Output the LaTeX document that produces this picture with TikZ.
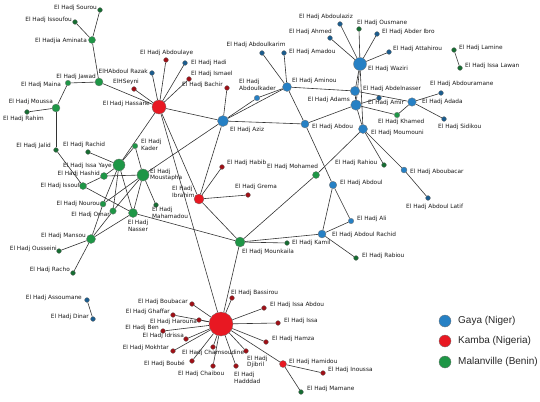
\documentclass[tikz,border=0pt]{standalone}
\usepackage{fontspec}
\newfontfamily\dejavu{DejaVu Sans}
\newfontfamily\libsans{Liberation Sans}
\usetikzlibrary{backgrounds}
\definecolor{cgaya}{RGB}{38,128,196}
\definecolor{ckamba}{RGB}{232,24,34}
\definecolor{cmal}{RGB}{30,150,70}
\begin{document}
\begin{tikzpicture}[x=1pt,y=-1pt,
  nd/.style={circle,inner sep=0pt,draw=black!55,line width=0.3pt},
  ga/.style={nd,fill=cgaya,minimum size=#1pt}, ga/.default=5,
  ka/.style={nd,fill=ckamba,minimum size=#1pt}, ka/.default=5,
  ma/.style={nd,fill=cmal,minimum size=#1pt}, ma/.default=5,
  gas/.style={nd,fill=cgaya!72!black,minimum size=4.8pt},
  kas/.style={nd,fill=ckamba!68!black,minimum size=4.8pt},
  mas/.style={nd,fill=cmal!72!black,minimum size=4.8pt},
  ed/.style={draw=black!80,line width=0.6pt},
  lbl/.style={font=\fontsize{5.8}{6.6}\selectfont\dejavu,inner sep=0pt,text=black!90,align=left},
  leg/.style={font=\fontsize{10}{12}\selectfont\libsans,inner sep=0pt,text=black!85,anchor=west}]
\useasboundingbox (0,0) rectangle (540,401);
% ---------- Gaya (blue)
\node[ga=13] (wazir) at (360,64) {};
\node[ga=9] (aminou) at (287,87) {};
\node[ga=11] (aziz) at (223,121) {};
\node[ga=8] (abdou) at (305,124) {};
\node[ga=9.5] (abdelnasser) at (355,91) {};
\node[ga=10.5] (adams) at (356,105) {};
\node[ga=9] (moumouni) at (363,129) {};
\node[ga=8.5] (adada) at (412,102) {};
\node[ga=7.5] (abdoul) at (333,185) {};
\node[ga=8] (abdoulrachid) at (322,234) {};
\node[ga=5.5] (ali) at (351,221) {};
\node[ga=6] (aboubacar) at (404,170) {};
\node[ga=5.5] (abdoulkader) at (257,98) {};
\node[gas] (abdoulkarim) at (262,53) {};
\node[gas] (amadou) at (284,53) {};
\node[gas] (ahmed) at (330,38) {};
\node[gas] (abdoulaziz) at (340,24) {};
\node[gas] (abderibro) at (377,34) {};
\node[gas] (attahirou) at (389,52) {};
\node[gas] (amir) at (379,98) {};
\node[gas] (abdouramane) at (441,93) {};
\node[gas] (sidikou) at (444,119) {};
\node[gas] (abdoullatif) at (428,198) {};
\node[gas] (razak) at (152,73) {};
\node[gas] (hadi) at (185,63) {};
\node[gas] (assoumane) at (87,300) {};
\node[gas] (dinar) at (93,319) {};
% ---------- Kamba (red)
\node[ka=14] (hassane) at (159,107) {};
\node[ka=24] (hub) at (221,324) {};
\node[ka=10] (ibrahim) at (199,199) {};
\node[ka=7] (hamidou) at (283,364) {};
\node[kas] (abdoulaye) at (166,60) {};
\node[kas] (seyni) at (134,89) {};
\node[kas] (ismael) at (189,79) {};
\node[kas] (bachir) at (227,88) {};
\node[kas] (habib) at (222,167) {};
\node[kas] (grema) at (248,195) {};
\node[kas] (bassirou) at (232,298) {};
\node[kas] (issaabdou) at (264,308) {};
\node[kas] (issa) at (278,323) {};
\node[kas] (hamza) at (266,342) {};
\node[kas] (inoussa) at (323,373) {};
\node[kas] (djibril) at (246,351) {};
\node[kas] (hadddad) at (236,366) {};
\node[kas] (chaibou) at (213,366) {};
\node[kas] (chamsoudine) at (213,347) {};
\node[kas] (boube) at (192,361) {};
\node[kas] (mokhtar) at (173,351) {};
\node[kas] (ben) at (163,331) {};
\node[kas] (idrissa) at (186,339) {};
\node[kas] (harouna) at (199,320) {};
\node[kas] (ghaffar) at (173,315) {};
\node[kas] (boubacar) at (192,304) {};
% ---------- Malanville (green)
\node[ma=12] (issayaye) at (119,165) {};
\node[ma=12] (moustapha) at (143,175) {};
\node[ma=10] (mounkaila) at (240,242) {};
\node[ma=9] (nasser) at (133,213) {};
\node[ma=9] (mansou) at (91,239) {};
\node[ma=8] (jawad) at (99,82) {};
\node[ma=8] (moussa) at (56,108) {};
\node[ma=7] (aminata) at (92,40) {};
\node[ma=7] (mohamed) at (316,175) {};
\node[ma=7] (hashid) at (104,176) {};
\node[ma=7] (issouf) at (83,186) {};
\node[ma=6.5] (omar) at (113,211) {};
\node[ma=6] (nourou) at (103,204) {};
\node[ma=5.5] (kader) at (135,146) {};
\node[ma=5.5] (khamed) at (397,115) {};
\node[ma=5.5] (maina) at (68,83) {};
\node[mas] (sourou) at (100,10) {};
\node[mas] (issoufou) at (75,22) {};
\node[mas] (rahim) at (27,112) {};
\node[mas] (jalid) at (56,150) {};
\node[mas] (rachid) at (88,152) {};
\node[mas] (mahamadou) at (156,205) {};
\node[mas] (ousseini) at (59,251) {};
\node[mas] (racho) at (73,273) {};
\node[mas] (ousmane) at (359,29) {};
\node[mas] (lamine) at (454,50) {};
\node[mas] (issalawan) at (460,68) {};
\node[mas] (kamil) at (287,243) {};
\node[mas] (rabiou) at (356,258) {};
\node[mas] (mamane) at (301,392) {};
\node[mas] (rahiou) at (384,165) {};
% ---------- edges
\begin{pgfonlayer}{background}
\foreach \a/\b in {hassane/razak,hassane/seyni,hassane/abdoulaye,hassane/hadi,hassane/ismael,
  hassane/jawad,hassane/aziz,hassane/issayaye,hassane/ibrahim,hassane/hub,
  aziz/bachir,aziz/aminou,aziz/abdoulkader,aziz/abdou,aziz/moustapha,aziz/ibrahim,
  abdoulkader/aminou,aminou/abdoulkarim,aminou/amadou,aminou/abdelnasser,aminou/abdou,
  abdou/adams,abdou/abdoul,
  wazir/abdoulaziz,wazir/ahmed,wazir/ousmane,wazir/abderibro,wazir/attahirou,
  wazir/abdelnasser,wazir/adams,wazir/moumouni,abdelnasser/adams,adams/moumouni,
  abdelnasser/adada,adams/amir,adams/khamed,khamed/adada,adada/abdouramane,adada/sidikou,
  moumouni/mohamed,moumouni/rahiou,moumouni/aboubacar,aboubacar/abdoullatif,
  abdoul/ali,abdoul/abdoulrachid,abdoulrachid/ali,abdoulrachid/rabiou,abdoulrachid/mounkaila,
  mounkaila/mohamed,mounkaila/kamil,mounkaila/nasser,mounkaila/hub,mounkaila/ibrahim,
  ibrahim/habib,ibrahim/grema,
  hub/boubacar,hub/ghaffar,hub/harouna,hub/ben,hub/idrissa,hub/mokhtar,hub/boube,
  hub/chaibou,hub/chamsoudine,hub/hadddad,hub/djibril,hub/hamidou,hub/hamza,hub/issa,
  hub/issaabdou,hub/bassirou,hamidou/inoussa,hamidou/mamane,
  lamine/issalawan,assoumane/dinar,
  sourou/aminata,issoufou/aminata,aminata/jawad,jawad/maina,maina/moussa,moussa/rahim,
  moussa/jalid,jalid/issouf,issouf/hashid,hashid/issayaye,issouf/nasser,hashid/moustapha,
  rachid/issayaye,kader/issayaye,kader/moustapha,issayaye/nasser,
  issayaye/omar,issayaye/nourou,nourou/mansou,moustapha/omar,omar/mansou,
  moustapha/nasser,moustapha/nourou,mansou/nasser,moustapha/mahamadou,
  mansou/ousseini,mansou/racho}
  \draw[ed] (\a) -- (\b);
\end{pgfonlayer}
% ---------- labels
\node[lbl,anchor=east] (tsourou) at (97,8) {El Hadj Sourou};
\node[lbl,anchor=east] (tissoufou) at (72,20) {El Hadj Issoufou};
\node[lbl,anchor=east] (taminata) at (87,41) {El Hadjia Aminata};
\node[lbl,anchor=east] (trazak) at (148,71) {ElHAbdoul Razak};
\node[lbl,anchor=east] (tseyni) at (139,82) {ElHSeyni};
\node[lbl,anchor=east] (thassane) at (150,104) {El Hadj Hassane};
\node[lbl,anchor=east] (tjawad) at (96,77) {El Hadj Jawad};
\node[lbl,anchor=east] (tmaina) at (61,85) {El Hadj Maina};
\node[lbl,anchor=east] (tmoussa) at (53,102) {El Hadj Moussa};
\node[lbl,anchor=west] (trahim) at (3,119) {El Hadj Rahim};
\node[lbl,anchor=west] (tabdoulaye) at (140,53) {El Hadj Abdoulaye};
\node[lbl,anchor=west] (thadi) at (191,63) {El Hadj Hadi};
\node[lbl,anchor=west] (tismael) at (191,74) {El Hadj Ismael};
\node[lbl,anchor=east] (tbachir) at (223,85) {El Hadj Bachir};
\node[lbl] (tabdoulkarim) at (256,45) {El Hadj Abdoulkarim};
\node[lbl,anchor=west] (tamadou) at (289,52) {El Hadj Amadou};
\node[lbl,anchor=west] (taminou) at (292,81) {El Hadj Aminou};
\node[lbl,anchor=west] (tabdoulkader) at (239,85) {El Hadj\\Abdoulkader};
\node[lbl,anchor=east] (tahmed) at (332,32) {El Hadj Ahmed};
\node[lbl,anchor=west] (tabdoulaziz) at (299,17) {El Hadj Abdoulaziz};
\node[lbl,anchor=west] (tousmane) at (357,23) {El Hadj Ousmane};
\node[lbl,anchor=west] (tabderibro) at (382,32) {El Hadj Abder Ibro};
\node[lbl,anchor=west] (tattahirou) at (393,49) {El Hadj Attahirou};
\node[lbl,anchor=west] (tlamine) at (459,48) {El Hadj Lamine};
\node[lbl,anchor=west] (tissalawan) at (465,66) {El Hadj Issa Lawan};
\node[lbl,anchor=west] (twazir) at (368,69) {El Hadj Waziri};
\node[lbl,anchor=west] (tabdelnasser) at (363,89) {El Hadj Abdelnasser};
\node[lbl,anchor=east] (tadams) at (350,100) {El Hadj Adams};
\node[lbl,anchor=west] (tamir) at (368,103) {El Hadj Amir};
\node[lbl,anchor=west] (tadada) at (422,102) {El Hadj Adada};
\node[lbl,anchor=west] (tabdouramane) at (430,84) {El Hadj Abdouramane};
\node[lbl,anchor=west] (tsidikou) at (438,127) {El Hadj Sidikou};
\node[lbl,anchor=west] (tkhamed) at (378,122) {El Hadj Khamed};
\node[lbl,anchor=west] (tmoumouni) at (371,133) {El Hadj Moumouni};
\node[lbl,anchor=west] (tabdou) at (312,127) {El Hadj Abdou};
\node[lbl,anchor=west] (taziz) at (230,130) {El Hadj Aziz};
\node[lbl,anchor=west] (trahiou) at (335,163) {El Hadj Rahiou};
\node[lbl,anchor=west] (taboubacar) at (410,172) {El Hadj Aboubacar};
\node[lbl,anchor=west] (tabdoullatif) at (406,207) {El Hadj Abdoul Latif};
\node[lbl,anchor=west] (tmohamed) at (267,167) {El Hadj Mohamed};
\node[lbl,anchor=west] (tabdoul) at (340,183) {El Hadj Abdoul};
\node[lbl,anchor=west] (tali) at (357,219) {El Hadj Ali};
\node[lbl,anchor=west] (tabdoulrachid) at (332,235) {El Hadj Abdoul Rachid};
\node[lbl,anchor=west] (trabiou) at (362,256) {El Hadj Rabiou};
\node[lbl,anchor=west] (tkamil) at (292,243) {El Hadj Kamil};
\node[lbl,anchor=west] (tmounkaila) at (242,252) {El Hadj Mounkaila};
\node[lbl,anchor=west] (thabib) at (227,163) {El Hadj Habib};
\node[lbl,anchor=west] (tgrema) at (235,187) {El Hadj Grema};
\node[lbl,anchor=west] (tibrahim) at (172,192) {El Hadj\\Ibrahim};
\node[lbl,anchor=east] (tjalid) at (51,146) {El Hadj Jalid};
\node[lbl,anchor=west] (trachid) at (63,145) {El Hadj Rachid};
\node[lbl,anchor=west] (tkader) at (141,145) {El Hadj\\Kader};
\node[lbl,anchor=east] (tissayaye) at (112,166) {El Hadj Issa Yaye};
\node[lbl,anchor=east] (thashid) at (100,174) {El Hadj Hashid};
\node[lbl,anchor=west] (tmoustapha) at (150,175) {El Hadj\\Moustapha};
\node[lbl,anchor=east] (tissouf) at (80,186) {El Hadj Issouf};
\node[lbl,anchor=east] (tnourou) at (100,204) {El Hadj Nourou};
\node[lbl,anchor=east] (tomar) at (110,215) {El Hadj Omar};
\node[lbl,align=center] (tnasser) at (138,226) {El Hadj\\Nasser};
\node[lbl,anchor=west] (tmahamadou) at (152,213) {El Hadj\\Mahamadou};
\node[lbl,anchor=east] (tmansou) at (86,236) {El Hadj Mansou};
\node[lbl,anchor=east] (tousseini) at (57,249) {El Hadj Ousseini};
\node[lbl,anchor=east] (tracho) at (70,270) {El Hadj Racho};
\node[lbl,anchor=east] (tassoumane) at (82,298) {El Hadj Assoumane};
\node[lbl,anchor=east] (tdinar) at (89,317) {El Hadj Dinar};
\node[lbl,anchor=west] (tbassirou) at (231,293) {El Hadj Bassirou};
\node[lbl,anchor=west] (tissaabdou) at (270,305) {El Hadj Issa Abdou};
\node[lbl,anchor=west] (tissa) at (284,321) {El Hadj Issa};
\node[lbl,anchor=west] (thamza) at (272,339) {El Hadj Hamza};
\node[lbl,anchor=west] (thamidou) at (289,362) {El Hadj Hamidou};
\node[lbl,anchor=west] (tinoussa) at (328,370) {El Hadj Inoussa};
\node[lbl,anchor=west] (tmamane) at (307,389) {El Hadj Mamane};
\node[lbl,anchor=west] (tdjibril) at (247,362) {El Hadj\\Djibril};
\node[lbl,anchor=west] (thadddad) at (234,378) {El Hadj\\Hadddad};
\node[lbl,anchor=west] (tchaibou) at (178,374) {El Hadj Chaibou};
\node[lbl,anchor=west] (tchamsoudine) at (182,353) {El Hadj Chamsoudine};
\node[lbl,anchor=east] (tboube) at (185,364) {El Hadj Boubé};
\node[lbl,anchor=east] (tmokhtar) at (169,348) {El Hadj Mokhtar};
\node[lbl,anchor=east] (tben) at (159,328) {El Hadj Ben};
\node[lbl,anchor=east] (tidrissa) at (184,336) {El Hadj Idrissa};
\node[lbl,anchor=east] (tharouna) at (197,322) {El Hadj Harouna};
\node[lbl,anchor=east] (tghaffar) at (170,312) {El Hadj Ghaffar};
\node[lbl,anchor=east] (tboubacar) at (188,302) {El Hadj Boubacar};
% ---------- legend
\node[ga=12] (lg1) at (445,321) {};
\node[ka=12] (lg2) at (445,341) {};
\node[ma=12] (lg3) at (445,362) {};
\node[leg] (tlg1) at (458,321) {Gaya (Niger)};
\node[leg] (tlg2) at (458,341) {Kamba (Nigeria)};
\node[leg] (tlg3) at (458,362) {Malanville (Benin)};
\end{tikzpicture}
\end{document}
